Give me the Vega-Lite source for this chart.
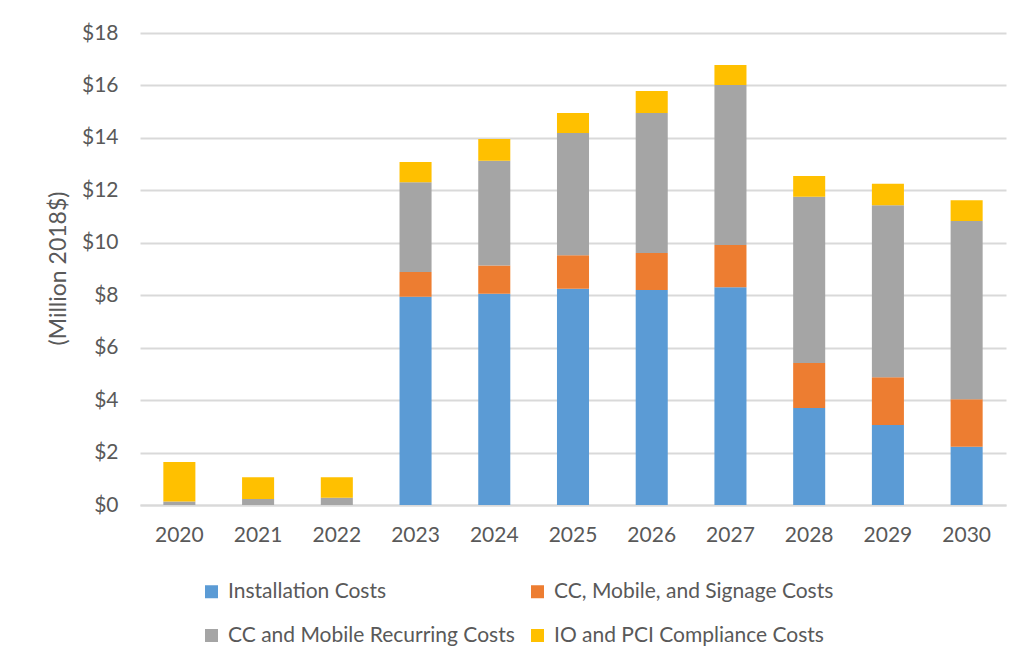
{
  "$schema": "https://vega.github.io/schema/vega-lite/v6.json",
  "width": 866,
  "height": 472,
  "autosize": {"type": "none"},
  "padding": {"left": 140, "top": 33, "right": 22, "bottom": 163},
  "background": "white",
  "config": {
    "font": "Lato",
    "view": {"stroke": null},
    "axis": {"labelColor": "#595959", "titleColor": "#595959", "labelFont": "Lato", "titleFont": "Lato"},
    "legend": {"labelFont": "Lato"}
  },
  "data": {
    "values": [
      {"year": "2020", "cat": "Installation Costs", "order": 1, "value": 0},
      {"year": "2020", "cat": "CC, Mobile, and Signage Costs", "order": 2, "value": 0},
      {"year": "2020", "cat": "CC and Mobile Recurring Costs", "order": 3, "value": 0.13},
      {"year": "2020", "cat": "IO and PCI Compliance Costs", "order": 4, "value": 1.51},
      {"year": "2021", "cat": "Installation Costs", "order": 1, "value": 0},
      {"year": "2021", "cat": "CC, Mobile, and Signage Costs", "order": 2, "value": 0},
      {"year": "2021", "cat": "CC and Mobile Recurring Costs", "order": 3, "value": 0.23},
      {"year": "2021", "cat": "IO and PCI Compliance Costs", "order": 4, "value": 0.83},
      {"year": "2022", "cat": "Installation Costs", "order": 1, "value": 0},
      {"year": "2022", "cat": "CC, Mobile, and Signage Costs", "order": 2, "value": 0},
      {"year": "2022", "cat": "CC and Mobile Recurring Costs", "order": 3, "value": 0.28},
      {"year": "2022", "cat": "IO and PCI Compliance Costs", "order": 4, "value": 0.78},
      {"year": "2023", "cat": "Installation Costs", "order": 1, "value": 7.94},
      {"year": "2023", "cat": "CC, Mobile, and Signage Costs", "order": 2, "value": 0.95},
      {"year": "2023", "cat": "CC and Mobile Recurring Costs", "order": 3, "value": 3.42},
      {"year": "2023", "cat": "IO and PCI Compliance Costs", "order": 4, "value": 0.77},
      {"year": "2024", "cat": "Installation Costs", "order": 1, "value": 8.06},
      {"year": "2024", "cat": "CC, Mobile, and Signage Costs", "order": 2, "value": 1.07},
      {"year": "2024", "cat": "CC and Mobile Recurring Costs", "order": 3, "value": 4.0},
      {"year": "2024", "cat": "IO and PCI Compliance Costs", "order": 4, "value": 0.83},
      {"year": "2025", "cat": "Installation Costs", "order": 1, "value": 8.25},
      {"year": "2025", "cat": "CC, Mobile, and Signage Costs", "order": 2, "value": 1.27},
      {"year": "2025", "cat": "CC and Mobile Recurring Costs", "order": 3, "value": 4.67},
      {"year": "2025", "cat": "IO and PCI Compliance Costs", "order": 4, "value": 0.76},
      {"year": "2026", "cat": "Installation Costs", "order": 1, "value": 8.2},
      {"year": "2026", "cat": "CC, Mobile, and Signage Costs", "order": 2, "value": 1.41},
      {"year": "2026", "cat": "CC and Mobile Recurring Costs", "order": 3, "value": 5.34},
      {"year": "2026", "cat": "IO and PCI Compliance Costs", "order": 4, "value": 0.84},
      {"year": "2027", "cat": "Installation Costs", "order": 1, "value": 8.3},
      {"year": "2027", "cat": "CC, Mobile, and Signage Costs", "order": 2, "value": 1.62},
      {"year": "2027", "cat": "CC and Mobile Recurring Costs", "order": 3, "value": 6.1},
      {"year": "2027", "cat": "IO and PCI Compliance Costs", "order": 4, "value": 0.76},
      {"year": "2028", "cat": "Installation Costs", "order": 1, "value": 3.7},
      {"year": "2028", "cat": "CC, Mobile, and Signage Costs", "order": 2, "value": 1.72},
      {"year": "2028", "cat": "CC and Mobile Recurring Costs", "order": 3, "value": 6.34},
      {"year": "2028", "cat": "IO and PCI Compliance Costs", "order": 4, "value": 0.79},
      {"year": "2029", "cat": "Installation Costs", "order": 1, "value": 3.05},
      {"year": "2029", "cat": "CC, Mobile, and Signage Costs", "order": 2, "value": 1.82},
      {"year": "2029", "cat": "CC and Mobile Recurring Costs", "order": 3, "value": 6.56},
      {"year": "2029", "cat": "IO and PCI Compliance Costs", "order": 4, "value": 0.82},
      {"year": "2030", "cat": "Installation Costs", "order": 1, "value": 2.22},
      {"year": "2030", "cat": "CC, Mobile, and Signage Costs", "order": 2, "value": 1.81},
      {"year": "2030", "cat": "CC and Mobile Recurring Costs", "order": 3, "value": 6.8},
      {"year": "2030", "cat": "IO and PCI Compliance Costs", "order": 4, "value": 0.79}
    ]
  },
  "mark": {"type": "bar"},
  "encoding": {
    "x": {
      "field": "year",
      "type": "ordinal",
      "scale": {"paddingInner": 0.593, "paddingOuter": 0.2965},
      "axis": {
        "title": null,
        "labelAngle": 0,
        "labelFontSize": 21,
        "labelPadding": 19,
        "ticks": false,
        "domain": true,
        "domainColor": "#D9D9D9",
        "domainWidth": 2,
        "grid": false
      }
    },
    "y": {
      "field": "value",
      "type": "quantitative",
      "stack": "zero",
      "scale": {"domain": [0, 18], "nice": false},
      "axis": {
        "title": "(Million 2018$)",
        "titleFontSize": 23,
        "titleFontWeight": "normal",
        "titleAngle": -90,
        "titleX": -82,
        "titleY": 235,
        "titleAlign": "center",
        "titleBaseline": "middle",
        "values": [0, 2, 4, 6, 8, 10, 12, 14, 16, 18],
        "labelExpr": "'$' + datum.value",
        "labelFontSize": 21,
        "labelPadding": 22,
        "ticks": false,
        "domain": false,
        "grid": true,
        "gridColor": "#D9D9D9",
        "gridWidth": 2
      }
    },
    "color": {
      "field": "cat",
      "type": "nominal",
      "scale": {
        "domain": ["Installation Costs", "CC, Mobile, and Signage Costs", "CC and Mobile Recurring Costs", "IO and PCI Compliance Costs"],
        "range": ["#5B9BD5", "#ED7D31", "#A5A5A5", "#FFC000"]
      },
      "legend": {
        "title": null,
        "orient": "none",
        "legendX": 61,
        "legendY": 548,
        "direction": "horizontal",
        "columns": 2,
        "symbolType": "square",
        "symbolSize": 169,
        "symbolStrokeWidth": 0,
        "labelFontSize": 21,
        "labelColor": "#595959",
        "labelOffset": 6,
        "labelLimit": 400,
        "columnPadding": 12,
        "rowPadding": 22
      }
    },
    "order": {"field": "order", "type": "quantitative"}
  }
}
